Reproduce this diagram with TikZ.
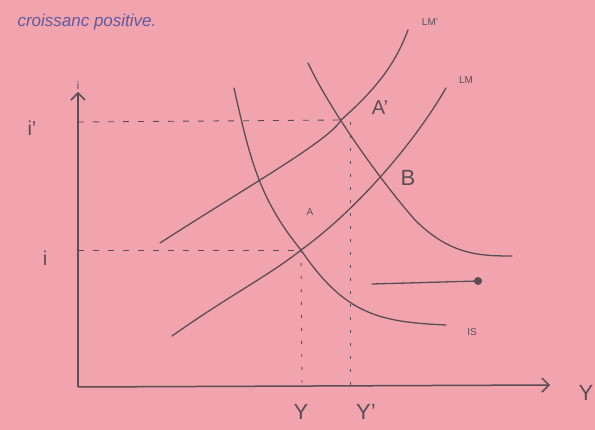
\documentclass[tikz,border=0pt]{standalone}
\usepackage{fontspec}
\setmainfont{Liberation Sans}
\usetikzlibrary{arrows.meta}
\definecolor{paper}{HTML}{F2A4AE}
\definecolor{pencil}{HTML}{5A4E54}
\definecolor{ink}{HTML}{5F5A9E}
\tikzset{
  curve/.style={draw=pencil, line width=1.3pt, line cap=round},
  axis/.style={draw=pencil, line width=1.5pt, -{Straight Barb[length=7pt,width=14pt]}},
  guide/.style={draw=pencil, line width=0.9pt, dash pattern=on 6pt off 9pt},
  lbl/.style={text=pencil, inner sep=1pt},
}
\begin{document}
\begin{tikzpicture}[x=1pt,y=-1pt]
\fill[paper] (0,0) rectangle (595,430);
\useasboundingbox (0,0) rectangle (595,430);
% title
\node[text=ink, font=\fontsize{17}{20}\selectfont\itshape, anchor=west] (title) at (14,22) {croissanc positive.};
% axes
\coordinate (O) at (78,387);
\coordinate (ytop) at (78,92);
\coordinate (xend) at (550,385);
\draw[axis] (O) -- (ytop);
\draw[axis] (O) -- (xend);
\node[lbl, font=\fontsize{11}{12}\selectfont] (ilab) at (78,86) {i};
\node[lbl, font=\fontsize{22}{24}\selectfont] (Ylab) at (586,393) {Y};
% key points
\coordinate (A) at (301,250);
\coordinate (Ap) at (341,120);
\coordinate (yi) at (78,250);
\coordinate (yip) at (78,122);
\coordinate (xY) at (302,386);
\coordinate (xYp) at (350,386);
\coordinate (ApV) at (350,122);
% guides
\draw[guide] (yip) -- (Ap);
\draw[guide] (yi) -- (A);
\draw[guide, dash pattern=on 3pt off 10pt] (A) -- (xY);
\draw[guide, dash pattern=on 3pt off 10pt] (ApV) -- (xYp);
% curves
\draw[curve] (160,243) .. controls (250,185) and (330,140) .. (Ap) .. controls (375,90) and (395,65) .. (408,30);
\draw[curve] (172,336) .. controls (230,295) and (270,275) .. (A) .. controls (350,215) and (410,150) .. (446,88);
\draw[curve] (234,88) .. controls (250,160) and (260,200) .. (A) .. controls (345,315) and (380,322) .. (446,325);
\draw[curve] (308,63) .. controls (330,110) and (380,180) .. (415,220) .. controls (450,255) and (480,256) .. (512,256);
% short segment with dot
\coordinate (segL) at (372,284);
\coordinate (segR) at (478,281);
\draw[curve] (segL) -- (segR);
\fill[pencil] (segR) circle (4pt);
% labels
\node[lbl, font=\fontsize{10}{12}\selectfont] (LMp) at (430,22) {LM'};
\node[lbl, font=\fontsize{10}{12}\selectfont] (LM) at (466,80) {LM};
\node[lbl, font=\fontsize{10}{12}\selectfont] (IS) at (472,332) {IS};
\node[lbl, font=\fontsize{20}{22}\selectfont] (Aplab) at (380,108) {A'};
\node[lbl, font=\fontsize{22}{24}\selectfont] (Blab) at (408,178) {B};
\node[lbl, font=\fontsize{10}{12}\selectfont] (Alab) at (310,212) {A};
\node[lbl, font=\fontsize{20}{22}\selectfont] (ip) at (32,128) {i'};
\node[lbl, font=\fontsize{20}{22}\selectfont] (i) at (45,258) {i};
\node[lbl, font=\fontsize{22}{24}\selectfont] (Y) at (301,412) {Y};
\node[lbl, font=\fontsize{22}{24}\selectfont] (Yp) at (366,412) {Y'};
\end{tikzpicture}
\end{document}
